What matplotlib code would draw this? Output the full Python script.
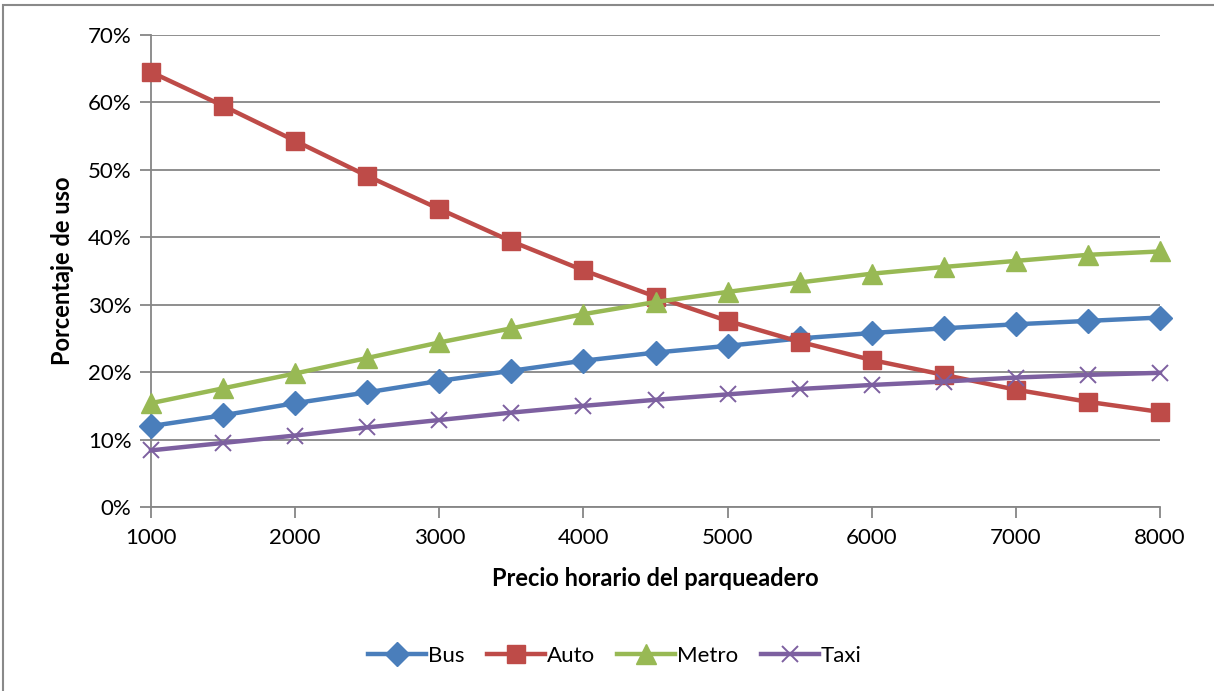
import matplotlib
matplotlib.use("Agg")
import matplotlib.pyplot as plt
from matplotlib.patches import Rectangle
from matplotlib.ticker import FuncFormatter, MultipleLocator

precio = [1000, 1500, 2000, 2500, 3000, 3500, 4000, 4500, 5000, 5500, 6000, 6500, 7000, 7500, 8000]
bus = [12.0, 13.6, 15.4, 17.0, 18.7, 20.2, 21.7, 22.9, 23.9, 25.0, 25.8, 26.5, 27.1, 27.6, 28.1]
auto = [64.5, 59.5, 54.3, 49.1, 44.2, 39.4, 35.1, 31.2, 27.6, 24.5, 21.8, 19.6, 17.4, 15.6, 14.1]
metro = [15.4, 17.6, 19.8, 22.1, 24.4, 26.5, 28.6, 30.4, 31.9, 33.3, 34.6, 35.6, 36.5, 37.4, 37.9]
taxi = [8.4, 9.5, 10.6, 11.8, 12.9, 14.0, 15.0, 15.9, 16.7, 17.5, 18.1, 18.6, 19.2, 19.6, 19.9]

series = [
    ("Bus", bus, "#4A7EBB", "D", 12),
    ("Auto", auto, "#BE4B48", "s", 13.5),
    ("Metro", metro, "#98B954", "^", 14),
    ("Taxi", taxi, "#7D60A0", "x", 12),
]

plt.rcParams['font.family'] = ['Lato', 'DejaVu Sans']

fig = plt.figure(figsize=(12.14, 6.91), dpi=100)
fig.patches.append(Rectangle((3 / 1214, -0.05), 1.1, 1 - 5 / 691 + 0.05,
                             transform=fig.transFigure, fill=False,
                             edgecolor="#898989", linewidth=1.5))

ax = fig.add_axes([151 / 1214, (691 - 507) / 691, 1009 / 1214, 472 / 691])

for name, vals, color, marker, ms in series:
    kw = dict(color=color, linewidth=3.2, marker=marker, markersize=ms, label=name,
              markerfacecolor=color, markeredgecolor=color, clip_on=False, zorder=3)
    if marker == "x":
        kw["markeredgewidth"] = 1.4
    ax.plot(precio, vals, **kw)

ax.set_xlim(1000, 8000)
ax.set_ylim(0, 70)
ax.xaxis.set_major_locator(MultipleLocator(1000))
ax.yaxis.set_major_locator(MultipleLocator(10))
ax.yaxis.set_major_formatter(FuncFormatter(lambda v, p: f"{int(round(v))}%"))

grid_c = "#868686"
ax.grid(axis="y", color=grid_c, linewidth=1.3, zorder=0)
for s in ["top", "right"]:
    ax.spines[s].set_visible(False)
for s in ["left", "bottom"]:
    ax.spines[s].set_color(grid_c)
    ax.spines[s].set_linewidth(1.3)
ax.tick_params(axis="both", colors=grid_c, width=1.3, length=8, labelsize=16,
               labelcolor="black", direction="out")
ax.tick_params(axis="y", pad=6)
ax.tick_params(axis="x", pad=7)

ax.set_ylabel("Porcentaje de uso", fontsize=17, fontweight="bold", labelpad=10)
ax.set_xlabel("Precio horario del parqueadero", fontsize=17, fontweight="bold", labelpad=14)

leg = fig.legend(loc="center", bbox_to_anchor=(615 / 1214, 1 - 656 / 691), ncol=4,
                 frameon=False, fontsize=16, handlelength=2.6, handletextpad=0.1,
                 columnspacing=1.0)

fig.savefig("out.png", dpi=100)
